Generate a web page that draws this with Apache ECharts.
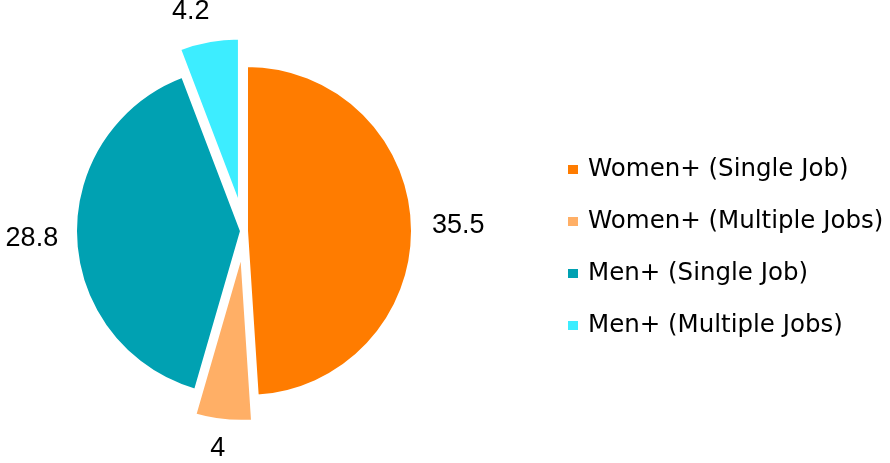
<!DOCTYPE html>
<html>
<head>
<meta charset="utf-8">
<script src="https://cdn.jsdelivr.net/npm/echarts@6/dist/echarts.min.js"></script>
<style>
  html, body { margin: 0; padding: 0; background: #fff; }
  #chart { width: 890px; height: 463px; }
</style>
</head>
<body>
<div id="chart"></div>
<script>
const names = ['Women+ (Single Job)', 'Women+ (Multiple Jobs)', 'Men+ (Single Job)', 'Men+ (Multiple Jobs)'];
const values = [35.5, 4, 28.8, 4.2];
const colors = ['#FF7C00', '#FFAF66', '#00A1B2', '#3DEDFF'];

// per slice: how far it is pulled out, and where its value label sits
const pullOut = [3, 25, 3, 28];
const labelLen = [10, 29, 10, 30];
const labelLen2 = [5, -10, 3, -11];
const labelDrop = [3, 0, 3, 0];

// one series per slice so every slice can get its own explosion
function sliceSeries(k) {
  return {
    type: 'pie',
    center: [244, 231],
    radius: [0, 165],
    startAngle: 90,
    clockwise: true,
    selectedMode: 'multiple',
    selectedOffset: pullOut[k],
    animation: false,
    silent: true,
    itemStyle: { borderColor: '#fff', borderWidth: 2 },
    label: {
      position: 'outside',
      formatter: '{c}',
      color: '#000',
      fontSize: 27,
      fontFamily: 'Liberation Sans, Arial, sans-serif',
      padding: [labelDrop[k] * 2, 0, 0, 0],
      bleedMargin: 0,
      overflow: 'none'
    },
    labelLine: { show: false, length: labelLen[k], length2: labelLen2[k] },
    data: names.map(function (n, i) {
      return {
        name: n,
        value: values[i],
        selected: true,
        itemStyle: { color: colors[i], opacity: i === k ? 1 : 0 },
        label: { show: i === k }
      };
    })
  };
}

const chart = echarts.init(document.getElementById('chart'));
chart.setOption({
  animation: false,
  legend: {
    orient: 'vertical',
    left: 561,
    top: 152,
    itemWidth: 12,
    itemHeight: 11,
    itemGap: 27,
    icon: 'rect',
    textStyle: {
      fontSize: 24.5,
      lineHeight: 24,
      color: '#000',
      fontFamily: 'DejaVu Sans, sans-serif',
      padding: [0, 0, 0, 4]
    },
    data: names.map(function (n, i) {
      return { name: n, itemStyle: { color: colors[i], opacity: 1 } };
    })
  },
  series: names.map(function (n, k) { return sliceSeries(k); })
});
</script>
</body>
</html>
